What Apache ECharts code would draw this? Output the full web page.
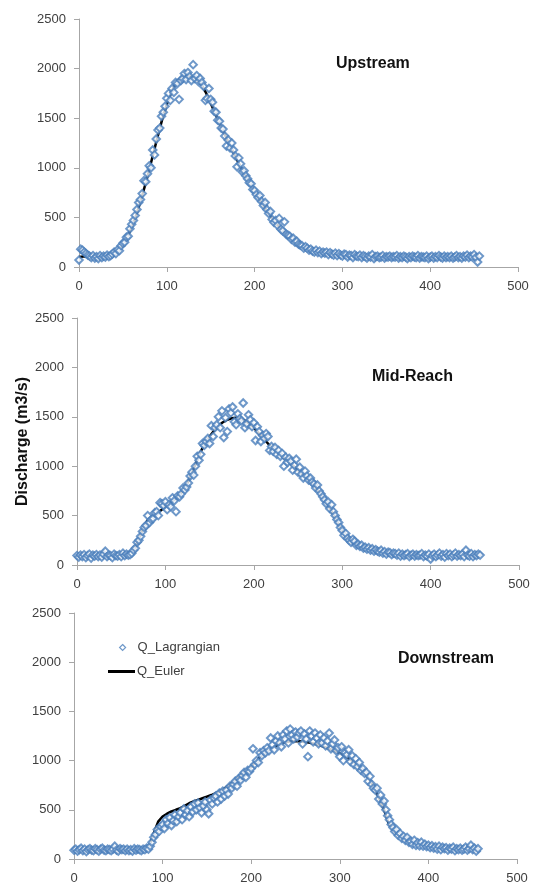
<!DOCTYPE html>
<html>
<head>
<meta charset="utf-8">
<script src="https://cdn.jsdelivr.net/npm/echarts@6/dist/echarts.min.js"></script>
<style>
html,body{margin:0;padding:0;background:#fff;}
#chart{width:538px;height:888px;}
</style>
</head>
<body>
<div id="chart"></div>
<script>
// ---- data ----
const panelTitles = ['Upstream', 'Mid-Reach', 'Downstream'];
const xTickValues = [0, 100, 200, 300, 400, 500];
const yTickValues = [0, 500, 1000, 1500, 2000, 2500];
const lagStep = 2;   // time spacing of Q_Lagrangian samples
const eulerStep = 5; // time spacing of Q_Euler samples

const upLag = [70,180,170,150,135,120,110,95,115,90,
105,85,115,95,110,100,120,105,115,130,
150,135,175,165,215,240,250,300,310,385,
430,470,520,580,650,680,740,870,860,940,
1020,1000,1180,1130,1290,1380,1400,1520,1560,1620,
1700,1750,1680,1800,1760,1860,1850,1690,1880,1900,
1950,1890,1960,1920,1880,2040,1900,1930,1870,1900,
1860,1820,1680,1700,1800,1690,1660,1570,1560,1480,
1470,1400,1390,1320,1220,1280,1200,1250,1180,1120,
1010,1100,1040,960,970,920,890,850,840,780,
770,730,700,720,660,620,650,580,540,560,
480,450,470,420,490,380,365,455,330,320,
310,280,290,250,260,230,220,215,190,205,
190,170,180,160,150,170,145,160,135,150,
140,150,125,145,130,120,140,115,135,120,
110,130,125,100,120,115,95,125,110,105,
120,95,115,105,90,110,100,125,85,105,
110,95,100,115,90,105,100,110,95,105,
100,115,90,105,95,110,100,85,105,95,
110,100,95,115,90,105,100,95,110,85,
100,110,90,105,95,115,100,90,110,95,
105,95,110,90,100,115,95,105,90,110,
100,120,95,110,100,125,95,50,110];

const midLag = [95,80,100,85,105,75,95,110,70,100,
90,105,85,100,80,110,140,85,100,95,
75,110,95,90,105,85,120,95,110,100,
105,120,150,170,230,250,290,340,380,400,
500,430,460,470,530,540,500,630,620,600,
640,560,610,590,680,650,540,700,690,720,
780,760,790,830,900,940,910,1000,1100,1060,
1120,1230,1210,1250,1280,1230,1410,1300,1390,1420,
1500,1390,1560,1290,1490,1350,1580,1540,1600,1450,
1420,1530,1480,1460,1640,1390,1430,1520,1470,1400,
1440,1260,1400,1350,1250,1310,1280,1330,1300,1160,
1200,1150,1190,1120,1160,1100,1130,1000,1090,1040,
1080,1050,960,1010,1070,940,990,920,880,950,
900,860,880,840,820,780,810,750,720,690,
660,620,640,570,610,540,500,460,430,380,
350,300,320,270,250,230,260,240,200,210,
190,200,170,180,160,175,150,165,140,155,
140,130,150,120,135,110,130,125,105,120,
115,100,120,90,110,95,105,115,85,100,
110,90,105,95,100,115,85,100,90,110,
60,95,110,85,100,120,90,105,80,115,
95,110,85,100,120,90,105,95,110,85,
150,100,90,115,85,105,95,110,100];

const downLag = [90,100,80,95,110,85,100,75,95,105,
90,85,105,95,80,100,110,90,85,100,
95,85,100,130,90,80,105,95,100,85,
100,85,95,80,105,90,100,95,85,100,
95,110,100,130,170,220,250,300,280,330,
350,310,400,360,420,340,390,450,380,430,
470,400,510,450,490,430,530,480,560,500,
570,520,470,540,580,500,460,600,560,620,
640,580,670,610,690,640,700,660,740,720,
760,790,740,820,800,850,880,830,900,890,
920,1120,960,1000,980,1080,1050,1100,1080,1130,
1100,1230,1160,1110,1200,1250,1180,1140,1260,1220,
1300,1180,1320,1260,1220,1290,1240,1280,1300,1170,
1270,1220,1040,1300,1250,1190,1280,1230,1170,1260,
1180,1230,1150,1200,1280,1120,1170,1210,1100,1130,
1040,1140,1000,1080,1060,1110,990,1050,960,1020,
940,980,900,920,870,880,790,840,760,720,
700,720,610,650,560,590,500,440,400,350,
320,280,300,240,260,210,230,190,220,170,
180,150,190,140,165,135,170,130,150,125,
140,115,135,110,125,100,130,95,120,105,
115,90,110,100,120,85,105,95,110,90,
100,120,90,105,140,95,110,80,105];

const upEuler = [100,105,105,100,100,102,105,112,130,165,
220,300,400,520,660,815,980,1155,1330,1495,
1640,1760,1850,1900,1925,1925,1910,1880,1830,1750,
1650,1550,1450,1355,1260,1170,1080,995,910,835,
760,690,620,555,490,435,385,340,300,265,
235,208,185,168,155,147,140,135,130,125,
120,117,115,112,110,108,105,103,102,101,
100,100,100,100,100,100,100,100,100,100,
100,100,100,100,100,100,100,100,100,100,
100,100];

const midEuler = [90,90,90,90,90,90,92,92,92,93,
95,100,110,160,260,380,455,490,520,555,
590,625,660,700,750,830,930,1040,1150,1230,
1300,1360,1410,1445,1470,1485,1490,1480,1460,1430,
1390,1340,1290,1240,1190,1150,1110,1075,1040,1000,
960,920,880,830,780,725,660,590,510,425,
340,275,230,205,185,170,160,150,140,132,
125,120,115,110,105,102,100,100,100,98,
95,95,95,95,95,95,95,95,95,95,
95,95];

const downEuler = [90,90,90,90,90,90,90,90,90,90,
90,90,90,90,90,90,92,130,263,380,
432,460,483,500,516,540,567,585,600,617,
634,650,668,690,719,750,786,828,870,905,
938,990,1039,1075,1106,1133,1157,1175,1190,1197,
1200,1197,1190,1183,1174,1162,1147,1131,1113,1095,
1073,1050,1022,992,955,910,853,785,702,605,
499,364,297,250,213,188,169,155,145,137,
130,122,115,110,106,103,100,100,100,100,
100,100];

const lagSets = [upLag, midLag, downLag];
const eulerSets = [upEuler, midEuler, downEuler];

// ---- layout / style ----
const FONT = 'Liberation Sans';
const LABEL = '#404040';
const AXIS = '#a6a6a6';
const BLUE = '#4a7ebb';
const grids = [
  {left: 79, width: 439, top: 19, height: 248},
  {left: 77, width: 442, top: 318, height: 247},
  {left: 74, width: 443, top: 613, height: 246}
];
const titlePos = [{left: 336, top: 56}, {left: 372, top: 369}, {left: 398, top: 651}];

const xAxes = [], yAxes = [], series = [], titles = [];
grids.forEach((g, k) => {
  xAxes.push({
    gridIndex: k, type: 'value', min: xTickValues[0], max: xTickValues[xTickValues.length - 1],
    interval: xTickValues[1] - xTickValues[0],
    axisLine: {show: true, lineStyle: {color: AXIS, width: 1}},
    axisTick: {show: true, length: 5, lineStyle: {color: AXIS}},
    splitLine: {show: false},
    axisLabel: {color: LABEL, fontSize: 13, fontFamily: FONT, margin: 13, formatter: v => String(v)}
  });
  yAxes.push({
    gridIndex: k, type: 'value', min: yTickValues[0], max: yTickValues[yTickValues.length - 1],
    interval: yTickValues[1] - yTickValues[0],
    axisLine: {show: true, lineStyle: {color: AXIS, width: 1}},
    axisTick: {show: true, length: 5, lineStyle: {color: AXIS}},
    splitLine: {show: false},
    axisLabel: {color: LABEL, fontSize: 13, fontFamily: FONT, margin: 13, formatter: v => String(v)},
    name: k === 1 ? 'Discharge (m3/s)' : '',
    nameLocation: 'middle', nameRotate: 90, nameGap: 46, nameMoveOverlap: false,
    nameTextStyle: {fontSize: 16, fontWeight: 'bold', color: '#111', fontFamily: FONT}
  });
  series.push({
    name: 'Q_Euler', type: 'line', xAxisIndex: k, yAxisIndex: k,
    data: eulerSets[k].map((v, i) => [i * eulerStep, v]),
    showSymbol: false, symbol: 'none', z: 1,
    lineStyle: {color: '#000', width: 2.5}, itemStyle: {color: '#000'}
  });
  series.push({
    name: 'Q_Lagrangian', type: 'scatter', xAxisIndex: k, yAxisIndex: k,
    data: lagSets[k].map((v, i) => [i * lagStep, v]),
    symbol: 'diamond', symbolSize: 7.5, z: 2,
    itemStyle: {color: '#ffffff', borderColor: BLUE, borderWidth: 2}
  });
  titles.push({
    text: panelTitles[k], left: titlePos[k].left, top: titlePos[k].top, padding: 0,
    textStyle: {fontSize: 16, fontWeight: 'bold', color: '#111', fontFamily: FONT}
  });
});

const chart = echarts.init(document.getElementById('chart'), null, {renderer: 'canvas'});
chart.setOption({
  animation: false,
  backgroundColor: '#fff',
  title: titles,
  grid: grids,
  xAxis: xAxes,
  yAxis: yAxes,
  legend: [
    {
      data: [{name: 'Q_Lagrangian', icon: 'diamond'}], left: 119, top: 641, padding: 0,
      itemWidth: 6, itemHeight: 6, selectedMode: false,
      itemStyle: {color: '#ffffff', borderColor: BLUE, borderWidth: 1.2},
      textStyle: {fontSize: 13, color: LABEL, fontFamily: FONT, padding: [0, 0, 0, 7]}
    },
    {
      data: [{name: 'Q_Euler', icon: 'rect'}], left: 108, top: 665, padding: 0,
      itemWidth: 27, itemHeight: 3, selectedMode: false,
      itemStyle: {color: '#000'},
      textStyle: {fontSize: 13, color: LABEL, fontFamily: FONT, padding: [0, 0, 0, -3]}
    }
  ],
  series: series
});
</script>
</body>
</html>
